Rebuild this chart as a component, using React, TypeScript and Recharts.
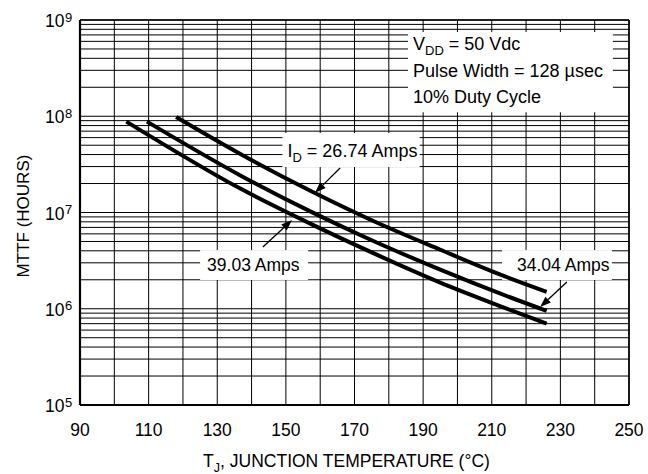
import React from 'react';
import {
  LineChart,
  Line,
  XAxis,
  YAxis,
  CartesianGrid,
  ReferenceArea,
  ReferenceLine,
} from 'recharts';

// junction temperature (°C) and MTTF (hours) per drain current
const temp2674 = [118, 137, 158, 175, 195, 212, 226];
const mttf2674 = [9.8e7, 4.0e7, 1.62e7, 8.3e6, 4.1e6, 2.3e6, 1.5e6];

const temp3404 = [109.5, 137, 158, 175, 195, 212, 226];
const mttf3404 = [8.8e7, 2.4e7, 9.9e6, 5.15e6, 2.55e6, 1.46e6, 9.5e5];

const temp3903 = [103.5, 137, 158, 175, 195, 212, 226];
const mttf3903 = [8.8e7, 1.75e7, 7.4e6, 3.85e6, 1.87e6, 1.08e6, 7.0e5];

const tempTicks = [90, 100, 110, 120, 130, 140, 150, 160, 170, 180, 190, 200, 210, 220, 230, 240, 250];
const tempLabels = [90, 110, 130, 150, 170, 190, 210, 230, 250];
const decades = [1e5, 1e6, 1e7, 1e8, 1e9];
const minorSteps = [1, 2, 3, 4, 5, 6, 7, 8, 9];
const mttfTicks = decades
  .slice(0, 4)
  .flatMap((d) => minorSteps.map((m) => m * d))
  .concat([1e9]);

const toRows = (temps: number[], vals: number[]) =>
  temps.map((t, i) => ({ temp: t, mttf: vals[i] }));

const FONT = '"Liberation Sans", Arial, Helvetica, sans-serif';

function DecadeTick({ x, y, payload }: any) {
  const v = payload.value;
  if (!decades.some((d) => Math.abs(d - v) < d * 1e-6)) return null;
  const exp = Math.round(Math.log10(v));
  return (
    <g fill="#000">
      <text x={x - 7.5} y={y + 7} textAnchor="end" fontSize={17.5}>10</text>
      <text x={x - 7} y={y + 1.5} textAnchor="start" fontSize={13}>{exp}</text>
    </g>
  );
}

function TempTick({ x, y, payload }: any) {
  if (!tempLabels.includes(payload.value)) return null;
  return (
    <text x={x} y={y + 31} textAnchor="middle" fontSize={17.5} fill="#000">
      {payload.value}
    </text>
  );
}

const yTitle = (props: any) => {
  const vb = props.viewBox;
  const cx = 29;
  const cy = vb.y + vb.height / 2 + 3.5;
  return (
    <text x={cx} y={cy} transform={`rotate(-90, ${cx}, ${cy})`} textAnchor="middle" fontSize={17} fill="#000">
      MTTF (HOURS)
    </text>
  );
};

const xTitle = (props: any) => {
  const vb = props.viewBox;
  return (
    <text x={vb.x + vb.width / 2 - 8} y={467} textAnchor="middle" fontSize={17.5} fill="#000">
      T<tspan dy={5} fontSize={12.5}>J</tspan>
      <tspan dy={-5}>, JUNCTION TEMPERATURE (°C)</tspan>
    </text>
  );
};

const conditionsBox = (p: any) => (
  <g>
    <rect x={p.x} y={p.y} width={p.width} height={p.height} fill="#fff" />
    <g fontSize={18} fill="#000">
      <text x={p.x + 5} y={p.y + 18}>
        V<tspan dy={5} fontSize={13}>DD</tspan>
        <tspan dy={-5}> = 50 Vdc</tspan>
      </text>
      <text x={p.x + 5} y={p.y + 45}>Pulse Width = 128 µsec</text>
      <text x={p.x + 5} y={p.y + 71}>10% Duty Cycle</text>
    </g>
  </g>
);

const idBox = (p: any) => (
  <g>
    <rect x={p.x} y={p.y} width={p.width} height={p.height} fill="#fff" />
    <text x={p.x + 5} y={p.y + 24} fontSize={18} fill="#000">
      I<tspan dy={5} fontSize={13}>D</tspan>
      <tspan dy={-5}> = 26.74 Amps</tspan>
    </text>
  </g>
);

const ampsBox = (label: string, dx: number) => (p: any) => (
  <g>
    <rect x={p.x} y={p.y} width={p.width} height={p.height} fill="#fff" />
    <text x={p.x + dx} y={p.y + 21} fontSize={17.5} fill="#000">{label}</text>
  </g>
);

const arrow = (p: any) => {
  const { x1, y1, x2, y2 } = p;
  const dx = x2 - x1;
  const dy = y2 - y1;
  const len = Math.sqrt(dx * dx + dy * dy) || 1;
  const ux = dx / len;
  const uy = dy / len;
  const headLen = 11;
  const headW = 4;
  const bx = x2 - ux * headLen;
  const by = y2 - uy * headLen;
  return (
    <g>
      <line x1={x1} y1={y1} x2={bx} y2={by} stroke="#000" strokeWidth={1.3} />
      <polygon
        points={`${x2},${y2} ${bx - uy * headW},${by + ux * headW} ${bx + uy * headW},${by - ux * headW}`}
        fill="#000"
      />
    </g>
  );
};

export default function App() {
  return (
    <div style={{ position: 'fixed', left: 0, top: 0, width: 648, height: 474, background: '#fff', fontFamily: FONT }}>
      <LineChart width={648} height={474} margin={{ top: 20, right: 19, left: 0, bottom: 0 }}>
        <CartesianGrid stroke="#000" strokeWidth={1} />
        <XAxis
          dataKey="temp"
          type="number"
          domain={[90, 250]}
          ticks={tempTicks}
          interval={0}
          allowDataOverflow
          height={69}
          tickSize={0}
          tickMargin={0}
          tick={<TempTick />}
          axisLine={{ stroke: '#000', strokeWidth: 2.2 }}
          label={xTitle}
        />
        <YAxis
          scale="log"
          type="number"
          domain={[1e5, 1e9]}
          ticks={mttfTicks}
          interval={0}
          allowDataOverflow
          width={80}
          tickSize={0}
          tickMargin={8}
          tick={<DecadeTick />}
          axisLine={{ stroke: '#000', strokeWidth: 2.2 }}
          label={yTitle}
        />
        <ReferenceLine x={250} stroke="#000" strokeWidth={1.6} />
        <ReferenceLine y={1e9} stroke="#000" strokeWidth={1.6} />

        <ReferenceArea x1={185.6} x2={245.3} y1={1.1e8} y2={7.5e8} shape={conditionsBox} />
        <ReferenceArea x1={149} x2={189} y1={2.97e7} y2={6.7e7} shape={idBox} />
        <ReferenceArea x1={125} x2={156.5} y1={1.99e6} y2={4.07e6} shape={ampsBox('39.03 Amps', 7)} />
        <ReferenceArea x1={213} x2={245} y1={1.99e6} y2={4.07e6} shape={ampsBox('34.04 Amps', 15)} />

        <Line data={toRows(temp2674, mttf2674)} dataKey="mttf" type="monotone" stroke="#000" strokeWidth={4} dot={false} isAnimationActive={false} />
        <Line data={toRows(temp3404, mttf3404)} dataKey="mttf" type="monotone" stroke="#000" strokeWidth={4} dot={false} isAnimationActive={false} />
        <Line data={toRows(temp3903, mttf3903)} dataKey="mttf" type="monotone" stroke="#000" strokeWidth={4} dot={false} isAnimationActive={false} />

        <ReferenceLine segment={[{ x: 165.8, y: 2.9e7 }, { x: 158.5, y: 1.6e7 }]} shape={arrow} />
        <ReferenceLine segment={[{ x: 143.3, y: 4.38e6 }, { x: 151.8, y: 8.36e6 }]} shape={arrow} />
        <ReferenceLine segment={[{ x: 231.9, y: 1.9e6 }, { x: 224.1, y: 1.04e6 }]} shape={arrow} />
      </LineChart>
    </div>
  );
}
